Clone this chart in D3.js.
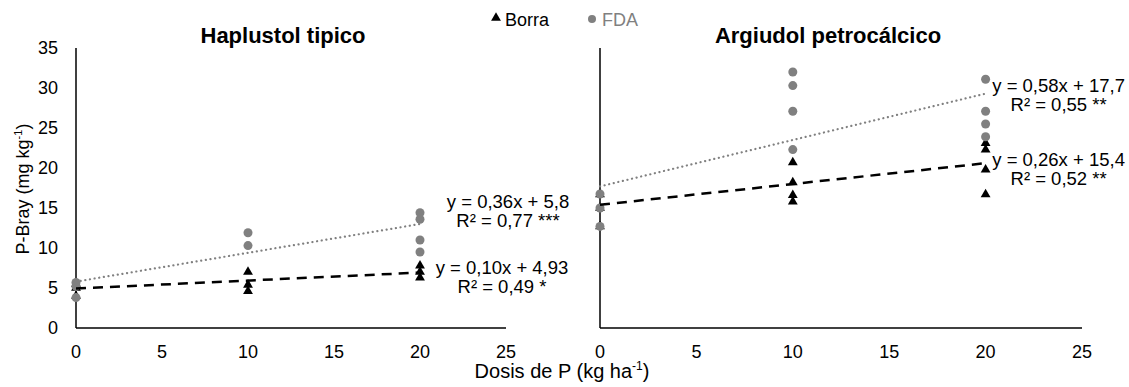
<!DOCTYPE html>
<html><head><meta charset="utf-8">
<script src="https://cdn.jsdelivr.net/npm/d3@7"></script>
<style>
body{margin:0;background:#fff;}
text{font-family:"Liberation Sans",Arial,sans-serif;}
</style></head>
<body><svg id="c" width="1129" height="387"></svg>
<script>
const doses = [0, 10, 20];
const xTicks = [0, 5, 10, 15, 20, 25];
const yTicks = [0, 5, 10, 15, 20, 25, 30, 35];
const panels = ["Haplustol tipico", "Argiudol petrocálcico"];
// values per dose (rows: dose 0, 10, 20)
const hapBorra = [[4.0, 5.0, 5.5], [7.0, 5.4, 4.6], [7.8, 7.0, 6.3]];
const hapFDA   = [[5.7, 5.2, 3.8], [11.9, 10.3], [14.4, 13.6, 11.0, 9.5]];
const argBorra = [[16.7, 15.0, 12.7], [20.7, 18.2, 16.6, 15.8], [23.1, 22.3, 19.8, 16.7]];
const argFDA   = [[16.75, 15.0, 12.7], [32.0, 30.3, 27.1, 22.3], [31.1, 27.1, 25.5, 23.9]];
// regression: [slope, intercept]
const hapBorraFit = [0.10, 4.93], hapFDAFit = [0.36, 5.8];
const argBorraFit = [0.26, 15.4], argFDAFit = [0.58, 17.7];
const hapBorraEq = ["y = 0,10x + 4,93", "R² = 0,49 *"];
const hapFDAEq   = ["y = 0,36x + 5,8", "R² = 0,77 ***"];
const argBorraEq = ["y = 0,26x + 15,4", "R² = 0,52 **"];
const argFDAEq   = ["y = 0,58x + 17,7", "R² = 0,55 **"];
const legendLabels = ["Borra", "FDA"];

const svg = d3.select("#c");
const FS = 18;
const gray = "#808080";

const y = d3.scaleLinear().domain([0, 35]).range([328, 48]);
const xs = [
  d3.scaleLinear().domain([0, 25]).range([76, 506]),
  d3.scaleLinear().domain([0, 25]).range([600, 1082])
];
const series = [
  {borra: hapBorra, fda: hapFDA, bf: hapBorraFit, ff: hapFDAFit, be: hapBorraEq, fe: hapFDAEq,
   feOff: [88, -16], beOff: [82, 1]},
  {borra: argBorra, fda: argFDA, bf: argBorraFit, ff: argFDAFit, be: argBorraEq, fe: argFDAEq,
   feOff: [73, -2], beOff: [73, 3]}
];

const tri = d3.symbol().type(d3.symbolTriangle).size(42);

panels.forEach((title, i) => {
  const x = xs[i], s = series[i];
  const g = svg.append("g");
  g.append("line").attr("x1", x(0)).attr("x2", x(0)).attr("y1", y(35)).attr("y2", y(0))
    .attr("stroke", "#000").attr("stroke-width", 1.5);
  g.append("line").attr("x1", x(0)).attr("x2", x(25)).attr("y1", y(0)).attr("y2", y(0))
    .attr("stroke", "#000").attr("stroke-width", 1.5);
  g.selectAll(".xt").data(xTicks).enter().append("text")
    .attr("x", d => x(d)).attr("y", 358).attr("text-anchor", "middle")
    .attr("font-size", FS).attr("fill", "#000").text(d => d);
  if (i === 0) {
    g.selectAll(".yt").data(yTicks).enter().append("text")
      .attr("x", 58).attr("y", d => y(d)).attr("dy", "0.35em").attr("text-anchor", "end")
      .attr("font-size", FS).attr("fill", "#000").text(d => d);
  }
  g.append("text").attr("x", (x(0) + x(25)) / 2 + (i === 0 ? -8 : -13)).attr("y", 43)
    .attr("text-anchor", "middle").attr("font-size", 22).attr("font-weight", "bold").text(title);

  s.borra.forEach((vals, k) => {
    g.selectAll(null).data(vals).enter().append("path")
      .attr("d", tri).attr("transform", v => `translate(${x(doses[k])},${y(v)})`)
      .attr("fill", "#000");
  });
  s.fda.forEach((vals, k) => {
    g.selectAll(null).data(vals).enter().append("circle")
      .attr("cx", x(doses[k])).attr("cy", v => y(v)).attr("r", 4.5).attr("fill", gray);
  });
  const xmin = d3.min(doses), xmax = d3.max(doses);
  g.append("line").attr("x1", x(xmin)).attr("y1", y(s.ff[0] * xmin + s.ff[1]))
    .attr("x2", x(xmax)).attr("y2", y(s.ff[0] * xmax + s.ff[1]))
    .attr("stroke", gray).attr("stroke-width", 2.2).attr("stroke-dasharray", "0.1 4.6")
    .attr("stroke-linecap", "round");
  g.append("line").attr("x1", x(xmin)).attr("y1", y(s.bf[0] * xmin + s.bf[1]))
    .attr("x2", x(xmax)).attr("y2", y(s.bf[0] * xmax + s.bf[1]))
    .attr("stroke", "#000").attr("stroke-width", 2.5).attr("stroke-dasharray", "10 7");
  const eq = (lines, fit, off) => {
    const ex = x(xmax) + off[0], ey = y(fit[0] * xmax + fit[1]) + off[1];
    const t = g.append("text").attr("text-anchor", "middle").attr("font-size", 18.5).attr("fill", "#000");
    lines.forEach((l, j) => t.append("tspan").attr("x", ex).attr("y", ey + j * 19).text(l));
  };
  eq(s.fe, s.ff, s.feOff);
  eq(s.be, s.bf, s.beOff);
});

const yl = svg.append("text").attr("transform", "translate(29,189) rotate(-90)")
  .attr("text-anchor", "middle").attr("font-size", FS);
yl.append("tspan").text("P-Bray (mg kg");
yl.append("tspan").attr("font-size", 11).attr("dy", -7).text("-1");
yl.append("tspan").attr("dy", 7).text(")");

const xl = svg.append("text").attr("x", 562).attr("y", 378).attr("text-anchor", "middle").attr("font-size", 20);
xl.append("tspan").text("Dosis de P (kg ha");
xl.append("tspan").attr("font-size", 12).attr("dy", -8).text("-1");
xl.append("tspan").attr("dy", 8).text(")");

const lg = svg.append("g");
lg.append("path").attr("d", tri).attr("transform", "translate(496,18)").attr("fill", "#000");
lg.append("text").attr("x", 505).attr("y", 26).attr("font-size", FS).attr("fill", "#000").text(legendLabels[0]);
lg.append("circle").attr("cx", 592).attr("cy", 19).attr("r", 4).attr("fill", gray);
lg.append("text").attr("x", 602).attr("y", 26).attr("font-size", FS).attr("fill", gray).text(legendLabels[1]);
</script></body></html>
